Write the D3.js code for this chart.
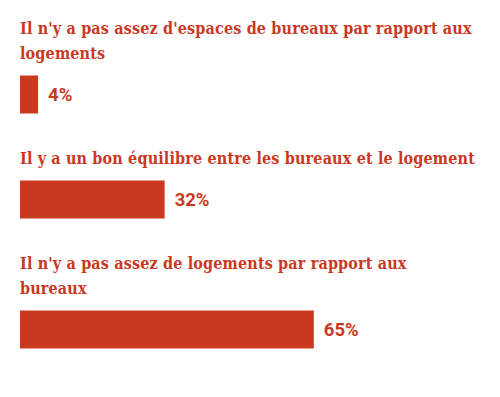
<!DOCTYPE html>
<html>
<head>
<meta charset="utf-8">
<script src="https://cdn.jsdelivr.net/npm/d3@7"></script>
<style>
  body { margin: 0; background: #fff; }
</style>
</head>
<body>
<div id="chart"></div>
<script>
// answers, already split into the lines they wrap to
const categories = [
    ["Il n'y a pas assez d'espaces de bureaux par rapport aux", "logements"],
    ["Il y a un bon équilibre entre les bureaux et le logement"],
    ["Il n'y a pas assez de logements par rapport aux", "bureaux"]
];
const values = [4, 32, 65];

const width = 500, height = 397;
const left = 20, lineGap = 25, barH = 38;
const red = "#c9391f";

const svg = d3.select("#chart").append("svg")
    .attr("width", width)
    .attr("height", height);

const x = d3.scaleLinear()
    .domain([0, 100])
    .range([0, 452]);

let y = 33.5;
categories.forEach((lines, i) => {
    const g = svg.append("g");

    lines.forEach((line, j) => {
        g.append("text")
            .attr("x", left)
            .attr("y", y + j * lineGap)
            .attr("font-family", "'Roboto Slab', 'DejaVu Serif Condensed', 'DejaVu Serif', serif")
            .attr("font-weight", "bold")
            .attr("font-size", "16px")
            .attr("letter-spacing", "0.15px")
            .attr("fill", red)
            .text(line);
    });

    const barTop = y + (lines.length - 1) * lineGap + 17;

    g.append("rect")
        .attr("x", left)
        .attr("y", barTop)
        .attr("width", x(values[i]))
        .attr("height", barH)
        .attr("fill", red);

    g.append("text")
        .attr("x", left + x(values[i]) + 10)
        .attr("y", barTop + barH / 2)
        .attr("dy", "0.36em")
        .attr("font-family", "Roboto, sans-serif")
        .attr("font-weight", "bold")
        .attr("font-size", "18.5px")
        .attr("fill", red)
        .text(d3.format(".0f")(values[i]) + "%");

    y = barTop + barH + 50;
});
</script>
</body>
</html>
